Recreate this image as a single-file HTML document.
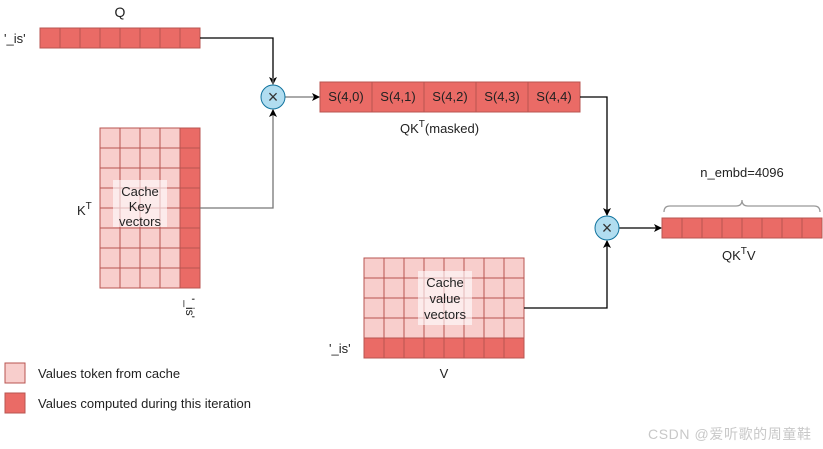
<!DOCTYPE html>
<html><head><meta charset="utf-8"><style>
html,body{margin:0;padding:0;background:#fff;}
svg{display:block;}
text{font-family:"Comic Sans MS","Liberation Sans",sans-serif;}
</style></head><body>
<svg width="823" height="449" viewBox="0 0 823 449" xmlns="http://www.w3.org/2000/svg">
<defs>
<marker id="ar" markerWidth="8" markerHeight="8" refX="7" refY="4" orient="auto" markerUnits="userSpaceOnUse">
<path d="M0,0 L8,4 L0,8 L2,4 z" fill="#000"/>
</marker>
</defs>
<g stroke="#b85450" stroke-width="1">
<rect x="40" y="28" width="160" height="20" fill="#ea6b66"/>
<path d="M60 28V48M80 28V48M100 28V48M120 28V48M140 28V48M160 28V48M180 28V48"/>
<rect x="100" y="128" width="80" height="160" fill="#f8cecc"/>
<rect x="180" y="128" width="20" height="160" fill="#ea6b66"/>
<path d="M120 128V288M140 128V288M160 128V288M100 148H200M100 168H200M100 188H200M100 208H200M100 228H200M100 248H200M100 268H200"/>
<rect x="320" y="82" width="260" height="30" fill="#ea6b66"/>
<path d="M372 82V112M424 82V112M476 82V112M528 82V112"/>
<rect x="364" y="258" width="160" height="80" fill="#f8cecc"/>
<rect x="364" y="338" width="160" height="20" fill="#ea6b66"/>
<path d="M384 258V358M404 258V358M424 258V358M444 258V358M464 258V358M484 258V358M504 258V358M364 278H524M364 298H524M364 318H524"/>
<rect x="662" y="218" width="160" height="20" fill="#ea6b66"/>
<path d="M682 218V238M702 218V238M722 218V238M742 218V238M762 218V238M782 218V238M802 218V238"/>
<rect x="5" y="363" width="20" height="20" fill="#f8cecc"/>
<rect x="5" y="393" width="20" height="20" fill="#ea6b66"/>
</g>
<rect x="113" y="180" width="54" height="47" fill="#fff" opacity="0.6"/>
<rect x="418" y="271" width="54" height="54" fill="#fff" opacity="0.6"/>
<g fill="none" stroke-width="1.3">
<path d="M200 38H273V84" stroke="#000" marker-end="url(#ar)"/>
<path d="M273 84V78" stroke="#777"/>
<path d="M200 208H273V110" stroke="#777" marker-end="url(#ar)"/>
<path d="M285 97H319" stroke="#777" marker-end="url(#ar)"/>
<path d="M580 97H607V215" stroke="#000" marker-end="url(#ar)"/>
<path d="M524 308H607V241" stroke="#000" marker-end="url(#ar)"/>
<path d="M619 228H661" stroke="#000" marker-end="url(#ar)"/>
<path d="M664 212Q664 206 670 206H736Q742 206 742 200Q742 206 748 206H814Q820 206 820 212" stroke="#999"/>
</g>
<circle cx="273" cy="97" r="12" fill="#b1ddf0" stroke="#10739e"/>
<circle cx="607" cy="228" r="12" fill="#b1ddf0" stroke="#10739e"/>
<text x="273" y="103" text-anchor="middle" font-size="18" fill="#333" style="font-family:'Liberation Sans',sans-serif">×</text>
<text x="607" y="234" text-anchor="middle" font-size="18" fill="#333" style="font-family:'Liberation Sans',sans-serif">×</text>
<g font-size="13" fill="#222">
<text x="120" y="17" text-anchor="middle" font-size="14" style="font-family:'Liberation Sans',sans-serif">Q</text>
<text x="4" y="43" style="font-family:'Liberation Sans',sans-serif">'_is'</text>
<text x="77" y="215" style="font-family:'Liberation Sans',sans-serif">K<tspan dy="-6" font-size="10">T</tspan></text>
<text x="140" y="196" text-anchor="middle">Cache</text>
<text x="140" y="211" text-anchor="middle">Key</text>
<text x="140" y="226" text-anchor="middle">vectors</text>
<text transform="translate(186,298) rotate(90)" font-size="12" style="font-family:'Liberation Sans',sans-serif">'_is'</text>
<text x="346" y="101" text-anchor="middle">S(4,0)</text>
<text x="398" y="101" text-anchor="middle">S(4,1)</text>
<text x="450" y="101" text-anchor="middle">S(4,2)</text>
<text x="502" y="101" text-anchor="middle">S(4,3)</text>
<text x="554" y="101" text-anchor="middle">S(4,4)</text>
<text x="400" y="133">QK<tspan dy="-6" font-size="10">T</tspan><tspan dy="6">(masked)</tspan></text>
<text x="445" y="287" text-anchor="middle">Cache</text>
<text x="445" y="303" text-anchor="middle">value</text>
<text x="445" y="319" text-anchor="middle">vectors</text>
<text x="329" y="353" style="font-family:'Liberation Sans',sans-serif">'_is'</text>
<text x="444" y="378" text-anchor="middle" style="font-family:'Liberation Sans',sans-serif">V</text>
<text x="742" y="177" text-anchor="middle" style="font-family:'Liberation Sans',sans-serif">n_embd=4096</text>
<text x="722" y="260" style="font-family:'Liberation Sans',sans-serif">QK<tspan dy="-6" font-size="10">T</tspan><tspan dy="6">V</tspan></text>
<text x="38" y="378">Values token from cache</text>
<text x="38" y="408">Values computed during this iteration</text>
</g>
<text x="648" y="439" font-size="14" letter-spacing="0.6" fill="#c8c8c8" style="font-family:'Liberation Sans','Noto Sans CJK SC',sans-serif">CSDN @爱听歌的周童鞋</text>
</svg>
</body></html>
